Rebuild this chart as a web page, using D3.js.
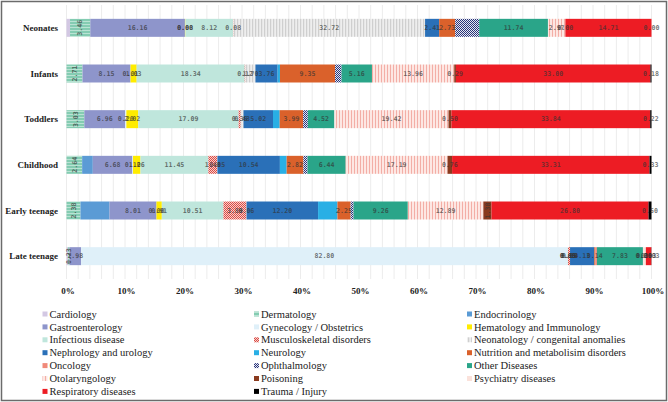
<!DOCTYPE html>
<html>
<head>
<meta charset="utf-8">
<script src="https://cdn.jsdelivr.net/npm/d3@7"></script>
<style>
    body { margin: 0; background: #fff; }
    svg { display: block; }
</style>
</head>
<body>
<div id="chart"></div>
<script>
// categories (top to bottom)
const categories = ["Neonates", "Infants", "Toddlers", "Childhood", "Early teenage", "Late teenage"];

// series, in stacking order
const seriesNames = [
    "Cardiology", "Dermatology", "Endocrinology", "Gastroenterology", "Gynecology / Obstetrics",
    "Hematology and Immunology", "Infectious disease", "Musculoskeletal disorders",
    "Neonatology / congenital anomalies", "Nephrology and urology", "Neurology",
    "Nutrition and metabolisim disorders", "Oncology", "Ophthalmology", "Other Diseases",
    "Otolaryngology", "Poisoning", "Psychiatry diseases", "Respiratory  diseases", "Trauma / Injury"
];

// percentage values per category, same order as seriesNames
const neonates     = [0.60, 3.46, 0.00, 16.16, 0.00, 0.08, 8.12, 0.08, 32.72, 2.41, 0.00, 2.73, 0.00, 4.10, 11.74, 2.97, 0.00, 0.00, 14.71, 0.00];
const infants      = [0.00, 2.71, 0.00, 8.15, 0.01, 1.03, 18.34, 0.12, 1.70, 3.76, 0.40, 9.35, 0.00, 1.10, 5.16, 13.96, 0.29, 0.00, 33.00, 0.18];
const toddlers     = [0.00, 3.03, 0.00, 6.96, 0.20, 2.02, 17.09, 0.35, 0.48, 5.02, 1.14, 3.99, 0.00, 0.80, 4.52, 19.42, 0.50, 0.00, 33.84, 0.22];
const childhood    = [0.00, 2.64, 1.80, 6.68, 0.10, 1.26, 11.45, 1.48, 0.05, 10.54, 1.14, 2.82, 0.00, 0.70, 6.44, 17.19, 0.76, 0.00, 33.31, 0.33];
const earlyTeenage = [0.00, 2.38, 4.96, 8.01, 0.00, 0.91, 10.51, 3.89, 0.06, 12.20, 3.30, 2.25, 0.00, 0.50, 9.26, 12.89, 1.38, 0.00, 26.80, 0.50];
const lateTeenage  = [0.27, 0.23, 0.00, 1.98, 82.80, 0.00, 0.05, 0.35, 0.00, 4.13, 0.00, 0.14, 0.30, 0.00, 7.83, 0.20, 0.00, 0.30, 0.93, 0.03];

const tickLabels = ["0%", "10%", "20%", "30%", "40%", "50%", "60%", "70%", "80%", "90%", "100%"];

// series that carry no value labels in the original
const unlabeled = ["Cardiology", "Endocrinology", "Neurology", "Oncology", "Ophthalmology", "Psychiatry diseases"];

const valueRows = [neonates, infants, toddlers, childhood, earlyTeenage, lateTeenage];

const fills = {
    "Cardiology": "#d3c8e3",
    "Dermatology": "url(#p-derm)",
    "Endocrinology": "#5b9bd5",
    "Gastroenterology": "#8e95cb",
    "Gynecology / Obstetrics": "#dff0f9",
    "Hematology and Immunology": "#ffec00",
    "Infectious disease": "#bfe6dc",
    "Musculoskeletal disorders": "url(#p-musc)",
    "Neonatology / congenital anomalies": "url(#p-neo)",
    "Nephrology and urology": "#2a70b8",
    "Neurology": "#29afe5",
    "Nutrition and metabolisim disorders": "#da612b",
    "Oncology": "#f0897a",
    "Ophthalmology": "url(#p-oph)",
    "Other Diseases": "#2aa589",
    "Otolaryngology": "url(#p-oto)",
    "Poisoning": "#8a3a1e",
    "Psychiatry diseases": "#fbe2db",
    "Respiratory  diseases": "#ed1c24",
    "Trauma / Injury": "#000000"
};

const width = 668, height = 402;
const margin = { top: 5, left: 66.5, right: 17, bottom: 123 };

const svg = d3.select('#chart').append('svg')
    .attr('width', width)
    .attr('height', height);

// patterns
const defs = svg.append('defs');

let p = defs.append('pattern').attr('id', 'p-derm').attr('patternUnits', 'userSpaceOnUse')
    .attr('width', 4).attr('height', 3);
p.append('rect').attr('width', 4).attr('height', 3).attr('fill', '#84ccb2');
p.append('rect').attr('width', 4).attr('height', 1).attr('fill', '#b9e3d3');

p = defs.append('pattern').attr('id', 'p-musc').attr('patternUnits', 'userSpaceOnUse')
    .attr('width', 2).attr('height', 2);
p.append('rect').attr('width', 2).attr('height', 2).attr('fill', '#f6d0cc');
p.append('rect').attr('width', 1).attr('height', 1).attr('fill', '#dc4a44');
p.append('rect').attr('x', 1).attr('y', 1).attr('width', 1).attr('height', 1).attr('fill', '#dc4a44');

p = defs.append('pattern').attr('id', 'p-neo').attr('patternUnits', 'userSpaceOnUse')
    .attr('width', 3).attr('height', 3);
p.append('rect').attr('width', 3).attr('height', 3).attr('fill', '#eeeeee');
p.append('rect').attr('width', 1.2).attr('height', 3).attr('fill', '#cfcfcf');

p = defs.append('pattern').attr('id', 'p-oph').attr('patternUnits', 'userSpaceOnUse')
    .attr('width', 2).attr('height', 2);
p.append('rect').attr('width', 2).attr('height', 2).attr('fill', '#e6e8f2');
p.append('rect').attr('width', 1).attr('height', 1).attr('fill', '#2a3479');
p.append('rect').attr('x', 1).attr('y', 1).attr('width', 1).attr('height', 1).attr('fill', '#2a3479');

p = defs.append('pattern').attr('id', 'p-oto').attr('patternUnits', 'userSpaceOnUse')
    .attr('width', 3).attr('height', 3);
p.append('rect').attr('width', 3).attr('height', 3).attr('fill', '#fde7e3');
p.append('rect').attr('width', 1).attr('height', 3).attr('fill', '#f3aea6');

// outer frame
svg.append('rect')
    .attr('x', 1.5).attr('y', 1.5)
    .attr('width', width - 3).attr('height', height - 3)
    .attr('fill', 'none')
    .attr('stroke', '#6b6b6b')
    .attr('stroke-width', 1.5);

// data table for the stack
const table = categories.map((c, i) => {
    const row = { category: c };
    seriesNames.forEach((s, j) => { row[s] = valueRows[i][j]; });
    return row;
});

const stack = d3.stack().keys(seriesNames).offset(d3.stackOffsetExpand);
const layers = stack(table);

const x = d3.scaleLinear().domain([0, 1]).range([margin.left, width - margin.right - 0.5 + 1]);
const y = d3.scaleBand().domain(categories)
    .range([margin.top, height - margin.bottom])
    .paddingInner(0.606).paddingOuter(0.303);

// light vertical grid, every 2%
svg.append('g')
    .selectAll('line')
    .data(d3.range(0, 1.0001, 0.02))
    .enter().append('line')
    .attr('x1', d => x(d)).attr('x2', d => x(d))
    .attr('y1', margin.top).attr('y2', height - margin.bottom)
    .attr('stroke', '#ececec')
    .attr('stroke-width', 1);

// bars
const layerG = svg.append('g')
    .selectAll('g.layer')
    .data(layers)
    .enter().append('g')
    .attr('class', 'layer')
    .attr('fill', d => fills[d.key]);

layerG.selectAll('rect')
    .data(d => d)
    .enter().append('rect')
    .attr('x', d => x(d[0]))
    .attr('y', d => y(d.data.category))
    .attr('width', d => Math.max(0, x(d[1]) - x(d[0])))
    .attr('height', y.bandwidth());

// value labels
const labelG = svg.append('g')
    .attr('font-family', '"DejaVu Sans Mono", monospace')
    .attr('font-weight', 'bold')
    .attr('font-size', 6.6)
    .attr('fill', '#333')
    .attr('fill-opacity', 0.7);

layers.forEach((layer, j) => {
    if (unlabeled.includes(layer.key)) return;
    layer.forEach(d => {
        const cx = (x(d[0]) + x(d[1])) / 2;
        const cy = y(d.data.category) + y.bandwidth() / 2;
        const txt = d.data[layer.key].toFixed(2);
        const rotated = layer.key === "Dermatology" ||
            (layer.key === "Poisoning" && d.data.category === "Early teenage");
        labelG.append('text')
            .attr('transform', rotated ? `translate(${cx},${cy}) rotate(-90)` : `translate(${cx},${cy})`)
            .attr('text-anchor', 'middle')
            .attr('dy', '0.35em')
            .text(txt);
    });
});

// category labels
svg.append('g')
    .selectAll('text')
    .data(categories)
    .enter().append('text')
    .attr('x', 58)
    .attr('y', d => y(d) + y.bandwidth() / 2)
    .attr('dy', '0.35em')
    .attr('text-anchor', 'end')
    .attr('font-family', '"Liberation Serif", serif')
    .attr('font-weight', 'bold')
    .attr('font-size', 9)
    .attr('fill', '#222')
    .text(d => d);

// x tick labels
svg.append('g')
    .selectAll('text')
    .data(tickLabels)
    .enter().append('text')
    .attr('x', (d, i) => x(i / 10) + 1.5)
    .attr('y', 294)
    .attr('text-anchor', 'middle')
    .attr('font-family', '"Liberation Serif", serif')
    .attr('font-weight', 'bold')
    .attr('font-size', 9)
    .attr('fill', '#222')
    .text(d => d);

// legend, three columns, row-major
const legendCols = [42.5, 254, 467];
const legend = svg.append('g')
    .attr('font-family', '"Liberation Serif", serif')
    .attr('font-size', 10.5)
    .attr('fill', '#222');

seriesNames.forEach((s, i) => {
    const col = i % 3, row = Math.floor(i / 3);
    const lx = legendCols[col], ly = 314 + row * 12.9;
    legend.append('rect')
        .attr('x', lx).attr('y', ly - 2.5)
        .attr('width', 5).attr('height', 5)
        .attr('fill', fills[s]);
    legend.append('text')
        .attr('x', lx + 7)
        .attr('y', ly)
        .attr('dy', '0.35em')
        .text(s);
});
</script>
</body>
</html>
